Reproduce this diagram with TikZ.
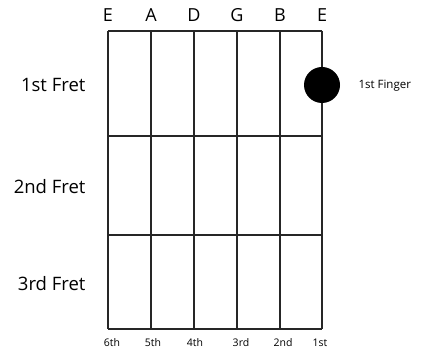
\documentclass[tikz,border=0pt]{standalone}
\usepackage{fontspec}
\setmainfont{Open Sans}
\begin{document}
\begin{tikzpicture}[x=1pt,y=-1pt,
  gridline/.style={line width=1.2pt,draw=black!85},
  strname/.style={font=\fontsize{18}{18}\selectfont,anchor=base},
  fretlbl/.style={font=\fontsize{18.5}{18.5}\selectfont,anchor=east},
  numlbl/.style={font=\fontsize{10.5}{10.5}\selectfont},
  fingerlbl/.style={font=\fontsize{11.5}{11.5}\selectfont,anchor=west}]
\useasboundingbox (0,0) rectangle (433,352);
% strings
\foreach \i/\x in {1/108,2/151,3/194,4/237,5/280,6/322}{
  \coordinate (t\i) at (\x,31);
  \coordinate (b\i) at (\x,329);
  \draw[gridline] (t\i) -- (b\i);
}
% frets
\foreach \j/\y in {0/31,1/136,2/235,3/329}{
  \coordinate (fl\j) at (108,\y);
  \coordinate (fr\j) at (322,\y);
  \draw[gridline] (fl\j) -- (fr\j);
}
% string names
\node[strname] (n1) at (108,22) {E};
\node[strname] (n2) at (151,22) {A};
\node[strname] (n3) at (194,22) {D};
\node[strname] (n4) at (237,22) {G};
\node[strname] (n5) at (280,22) {B};
\node[strname] (n6) at (322,22) {E};
% fret labels
\node[fretlbl] (f1) at (89,85) {1st Fret};
\node[fretlbl] (f2) at (89,187) {2nd Fret};
\node[fretlbl] (f3) at (89,284) {3rd Fret};
% string numbers
\node[numlbl] (s6) at (112,343) {6th};
\node[numlbl] (s5) at (153,343) {5th};
\node[numlbl] (s4) at (195,343) {4th};
\node[numlbl] (s3) at (241,343) {3rd};
\node[numlbl] (s2) at (283,343) {2nd};
\node[numlbl] (s1) at (320,343) {1st};
% finger dot
\node[circle,fill=black,minimum size=36pt,inner sep=0pt] (dot) at (322,85) {};
\node[fingerlbl] (fg) at (355,86) {1st Finger};
\end{tikzpicture}
\end{document}
